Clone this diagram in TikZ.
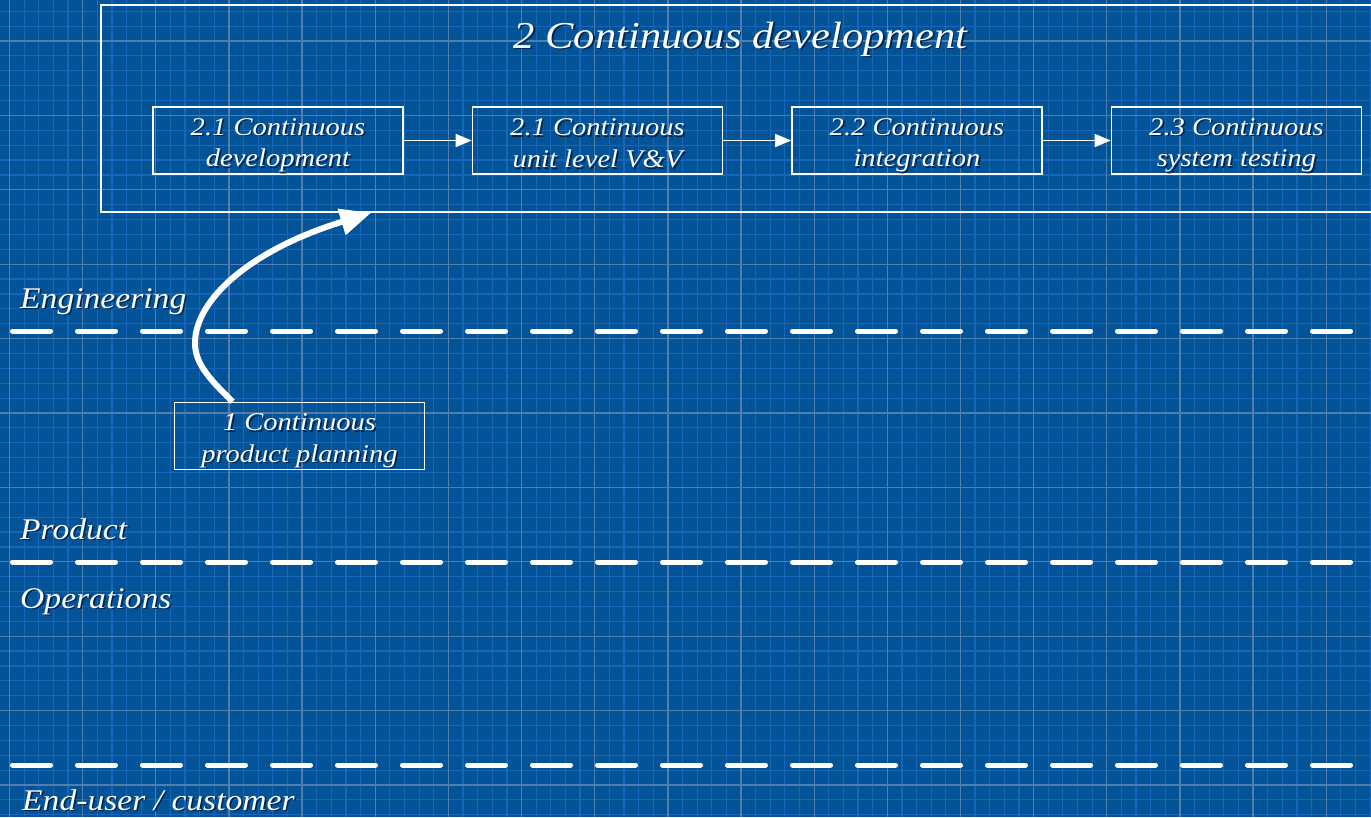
\documentclass[tikz,border=0pt]{standalone}
\usepackage{fontspec}
\setmainfont{Liberation Serif}[FakeStretch=1.12]
\usetikzlibrary{arrows.meta,calc}

\definecolor{bp}{RGB}{3,83,152}
\definecolor{bpminor}{RGB}{22,102,186}
\definecolor{bpmajor}{RGB}{82,126,174}
\definecolor{txtshadow}{RGB}{0,38,80}

% white text with a dark copy offset to the lower right
\newcommand{\shd}[1]{\leavevmode\rlap{\hspace{1.6pt}\raisebox{-1.8pt}{\textcolor{txtshadow}{#1}}}#1}
% fixed room above the first and below the last line of a box label
\newcommand{\toproom}{\rule{0pt}{28pt}}
\newcommand{\botroom}{\rule[-6pt]{0pt}{1pt}}

\tikzset{
  stagebox/.style={draw=white, line width=1.6pt, minimum width=250pt, minimum height=67pt,
    inner sep=0pt, align=center, text=white,
    font=\fontsize{25.5}{31.5}\selectfont\itshape},
  framebox/.style={draw=white, line width=1.6pt, minimum width=1279pt, minimum height=207pt, inner sep=0pt},
  titletext/.style={anchor=base, inner sep=0pt, text=white, font=\fontsize{38}{44}\selectfont\itshape},
  lanetext/.style={anchor=base west, inner sep=0pt, text=white, font=\fontsize{30}{36}\selectfont\itshape},
  divider/.style={white, line width=5pt, line cap=round, dash pattern=on 38pt off 27pt},
  flow/.style={white, line width=1.6pt, -{Triangle[length=16pt,width=13pt]}},
  bigflow/.style={white, line width=6pt, -{Triangle[length=31pt,width=26pt]}},
  minorgrid/.style={bpminor, line width=1.2pt},
  majorgrid/.style={bpmajor, line width=1.3pt},
}

\begin{document}
\begin{tikzpicture}[x=1pt, y=-1pt]
  \useasboundingbox (0,0) rectangle (1371,817);
  \clip (0,0) rectangle (1371,817);

  % blueprint paper
  \fill[bp] (0,0) rectangle (1371,817);
  \foreach \i in {0,...,93} \draw[minorgrid] ({9.5+\i*14.63},0) -- ++(0,817);
  \foreach \j in {-2,...,52} \draw[minorgrid] (0,{41+\j*14.88}) -- ++(1371,0);
  \foreach \i in {0,...,18} \draw[majorgrid] ({9.5+\i*73.15},0) -- ++(0,817);
  \foreach \j in {-1,...,11} \draw[majorgrid] (0,{41+\j*74.4}) -- ++(1371,0);

  % lane dividers
  \draw[divider] (12.5,331) -- (1350.5,331);
  \draw[divider] (12.5,562) -- (1350.5,562);
  \draw[divider] (12.5,765) -- (1350.5,765);

  % lane names
  \node[lanetext] (engineering) at (20,308) {\shd{Engineering}};
  \node[lanetext] (product) at (20,539) {\shd{Product}};
  \node[lanetext] (operations) at (20,608) {\shd{Operations}};
  \node[lanetext] (enduser) at (22,810) {\shd{End-user / customer}};

  % continuous development frame
  \node[framebox] (devbox) at (740.5,108.5) {};
  \node[titletext] (devtitle) at (740.5,48) {\shd{2 Continuous development}};

  \node[stagebox] (s1) at (278,140.5) {\toproom\shd{2.1 Continuous}\\\shd{development}\botroom};
  \node[stagebox] (s2) at (597.5,140.5) {\toproom\shd{2.1 Continuous}\\\shd{unit level V\&V}\botroom};
  \node[stagebox] (s3) at (917,140.5) {\toproom\shd{2.2 Continuous}\\\shd{integration}\botroom};
  \node[stagebox] (s4) at (1236.5,140.5) {\toproom\shd{2.3 Continuous}\\\shd{system testing}\botroom};

  \draw[flow] (s1) -- (s2);
  \draw[flow] (s2) -- (s3);
  \draw[flow] (s3) -- (s4);

  % product planning feeding development
  \node[stagebox] (plan) at (299.5,436) {\toproom\shd{1 Continuous}\\\shd{product planning}\botroom};

  \coordinate (arrowstart) at ($(plan.north west)+(59,0)$);
  \coordinate (arrowend) at ($(devbox.south west)+(271,0)$);
  \draw[bigflow] (arrowstart) .. controls (207,377) and (195,362) .. (195,343)
    .. controls (195,300) and (250,250) .. (arrowend);
\end{tikzpicture}
\end{document}
